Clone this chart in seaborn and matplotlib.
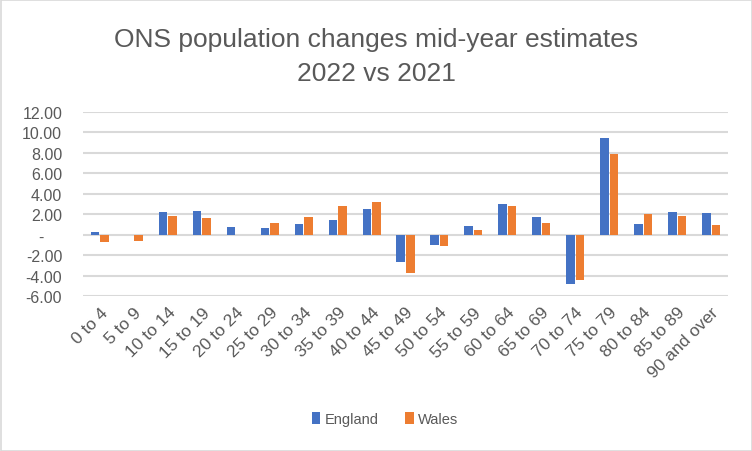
import matplotlib
matplotlib.use("Agg")
import matplotlib.pyplot as plt
import seaborn as sns
import pandas as pd
from matplotlib.patches import Rectangle

age_groups = ["0 to 4", "5 to 9", "10 to 14", "15 to 19", "20 to 24", "25 to 29",
              "30 to 34", "35 to 39", "40 to 44", "45 to 49", "50 to 54", "55 to 59",
              "60 to 64", "65 to 69", "70 to 74", "75 to 79", "80 to 84", "85 to 89",
              "90 and over"]
england = [0.30, 0.00, 2.22, 2.32, 0.75, 0.65, 1.04, 1.44, 2.51, -2.68, -1.01, 0.85,
           3.00, 1.73, -4.83, 9.46, 1.04, 2.22, 2.12]
wales = [-0.69, -0.59, 1.83, 1.63, 0.00, 1.14, 1.73, 2.81, 3.20, -3.75, -1.11, 0.46,
         2.81, 1.14, -4.44, 7.90, 2.02, 1.83, 0.95]
series = ["England", "Wales"]
colors = ["#4472C4", "#ED7D31"]
y_ticks = [-6, -4, -2, 0, 2, 4, 6, 8, 10, 12]
title = "ONS population changes mid-year estimates\n2022 vs 2021"

df = pd.DataFrame({
    "Age": age_groups * 2,
    "Series": [series[0]] * len(age_groups) + [series[1]] * len(age_groups),
    "Value": england + wales,
})

sns.set_theme(style="white")
plt.rcParams["font.family"] = ["Liberation Sans", "DejaVu Sans"]

fig = plt.figure(figsize=(7.52, 4.52), dpi=100)
ax = fig.add_axes([83 / 752, 1 - 297 / 452, (728 - 83) / 752, (297 - 113) / 452])

sns.barplot(data=df, x="Age", y="Value", hue="Series", palette=colors,
            saturation=1, width=0.56, gap=0.1, linewidth=0, ax=ax, legend=True,
            zorder=3)

ax.set_ylim(-6, 12)
ax.set_xlim(-0.5, len(age_groups) - 0.5)
ax.set_yticks(y_ticks)
ax.set_yticklabels(["-    " if v == 0 else f"{v:.2f}" for v in y_ticks])
ax.yaxis.grid(True, color="#D9D9D9", linewidth=1.5, zorder=0)
ax.set_axisbelow(True)
for s in ax.spines.values():
    s.set_visible(False)
ax.set_xlabel("")
ax.set_ylabel("")
ax.tick_params(axis="y", length=0, pad=15, labelsize=11.5, labelcolor="#595959")
ax.tick_params(axis="x", length=0, pad=6, labelsize=12.5, labelcolor="#595959")
for lab in ax.get_xticklabels():
    lab.set_rotation(45)
    lab.set_ha("right")
    lab.set_rotation_mode("anchor")

handles, labels = ax.get_legend_handles_labels()
ax.get_legend().remove()
fig.legend(handles, labels, loc="center", bbox_to_anchor=(385 / 752, 1 - 420 / 452),
           ncol=2, frameon=False, fontsize=10.5, handlelength=0.6, handleheight=0.9,
           handletextpad=0.3, columnspacing=1.8, labelcolor="#595959")

fig.text(0.5, 1 - 57 / 452, title, ha="center", va="center", fontsize=19,
         color="#595959", linespacing=1.5)

fig.patches.append(Rectangle((0.5 / 752, 0.5 / 452), 1 - 1 / 752, 1 - 1 / 452,
                             transform=fig.transFigure, fill=False,
                             edgecolor="#D9D9D9", linewidth=1.2))

fig.savefig("out.png", dpi=100, facecolor="white")
